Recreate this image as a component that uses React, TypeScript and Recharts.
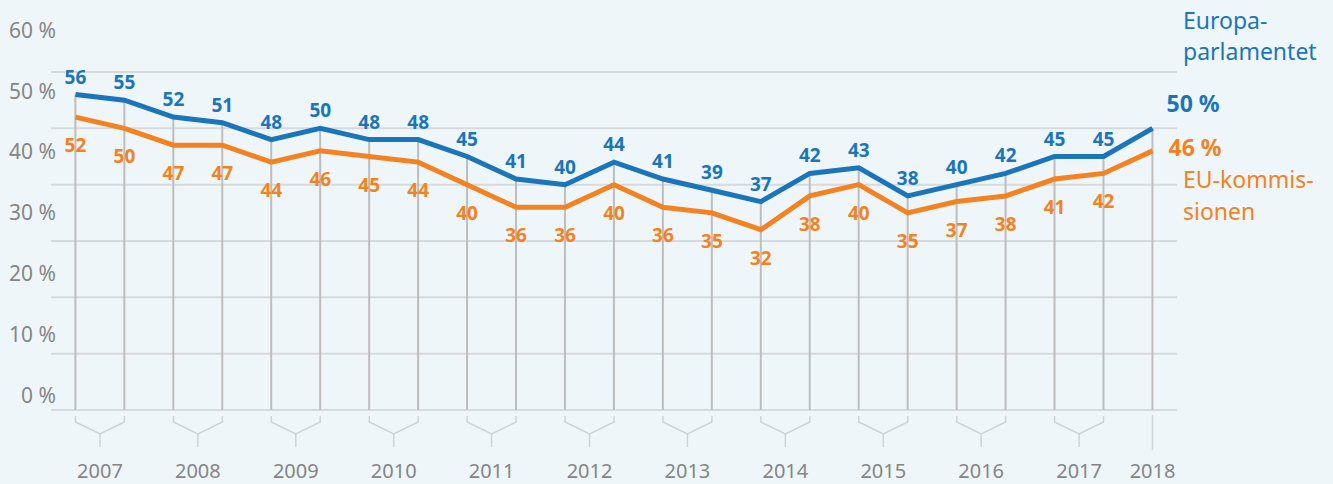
import React from 'react';
import { ComposedChart, Line, Bar, XAxis, YAxis, CartesianGrid } from 'recharts';

// Eurobarometer-mätningar, vår och höst per år
const waves = [
  '2007-1', '2007-2', '2008-1', '2008-2', '2009-1', '2009-2', '2010-1', '2010-2',
  '2011-1', '2011-2', '2012-1', '2012-2', '2013-1', '2013-2', '2014-1', '2014-2',
  '2015-1', '2015-2', '2016-1', '2016-2', '2017-1', '2017-2', '2018-1',
];
const europaparlamentet = [56, 55, 52, 51, 48, 50, 48, 48, 45, 41, 40, 44, 41, 39, 37, 42, 43, 38, 40, 42, 45, 45, 50];
const kommissionen = [52, 50, 47, 47, 44, 46, 45, 44, 40, 36, 36, 40, 36, 35, 32, 38, 40, 35, 37, 38, 41, 42, 46];
const yTicks = [0, 10, 20, 30, 40, 50, 60];

const BLUE = '#1a75bb';
const ORANGE = '#f58220';
const GRAY_TEXT = '#858585';
const FONT = '"Noto Sans", sans-serif';

const W = 1333;
const H = 484;
const MARGIN = { top: 72, right: 156, bottom: 0, left: 0 };
const Y_AXIS_W = 51;
const STEP = (W - MARGIN.left - MARGIN.right - Y_AXIS_W) / waves.length;

const data = waves.map((wave, i) => ({
  wave,
  ep: europaparlamentet[i],
  ek: kommissionen[i],
}));

const last = waves.length - 1;

const YTick = (props: any) => {
  const { x, y, payload } = props;
  const v = payload.value as number;
  // etiketterna sitter lite ovanför sina linjer, mer ju högre upp
  const lift = 7 + v * 0.455;
  return (
    <text x={x + 13} y={y - lift} textAnchor="end" fill={GRAY_TEXT} fontSize={21} fontFamily={FONT}>
      {`${v} %`}
    </text>
  );
};

const XTick = (props: any) => {
  const { x, y, payload } = props;
  const index = payload.index as number;
  const wave = payload.value as string;
  const year = wave.slice(0, 4);
  const half = STEP / 2;
  const stroke = '#cfd3d6';
  if (index === last) {
    return (
      <g>
        <line x1={x} x2={x} y1={y - 3} y2={y + 32} stroke={stroke} strokeWidth={1.5} />
        <text x={x} y={y + 60} textAnchor="middle" fill={GRAY_TEXT} fontSize={20} fontFamily={FONT}>{year}</text>
      </g>
    );
  }
  if (index % 2 === 0) {
    const mid = x + half;
    return (
      <g>
        <polyline
          points={`${x},${y - 2} ${x},${y + 4} ${mid},${y + 16} ${x + STEP},${y + 4} ${x + STEP},${y - 2}`}
          fill="none"
          stroke={stroke}
          strokeWidth={1.5}
        />
        <line x1={mid} x2={mid} y1={y + 16} y2={y + 29} stroke={stroke} strokeWidth={1.5} />
        <text x={mid} y={y + 60} textAnchor="middle" fill={GRAY_TEXT} fontSize={20} fontFamily={FONT}>{year}</text>
      </g>
    );
  }
  return <g />;
};

const Stem = (props: any) => {
  const { x, y, width, height } = props;
  const cx = x + width / 2;
  return <line x1={cx} x2={cx} y1={y} y2={y + height} stroke="#bdbdbd" strokeWidth={2} />;
};

const EpLabel = (props: any) => {
  const { x, y, value, index } = props;
  if (index === last) {
    return (
      <text x={x + 14} y={y - 16} fill={BLUE} fontSize={23} fontWeight={700} fontFamily={FONT}>
        {`${value} %`}
      </text>
    );
  }
  return (
    <text x={x} y={y - 11} textAnchor="middle" fill={BLUE} fontSize={19} fontWeight={700} fontFamily={FONT}>
      {value}
    </text>
  );
};

const EkLabel = (props: any) => {
  const { x, y, value, index } = props;
  if (index === last) {
    return (
      <text x={x + 16} y={y + 5} fill={ORANGE} fontSize={23} fontWeight={700} fontFamily={FONT}>
        {`${value} %`}
      </text>
    );
  }
  return (
    <text x={x} y={y + 35} textAnchor="middle" fill={ORANGE} fontSize={19} fontWeight={700} fontFamily={FONT}>
      {value}
    </text>
  );
};

export default function App() {
  return (
    <div style={{ position: 'absolute', left: 0, top: 0, width: W, height: H, background: '#eff6fa', fontFamily: FONT }}>
      <ComposedChart width={W} height={H} data={data} margin={MARGIN}>
        <CartesianGrid horizontal vertical={false} stroke="#d7dadc" strokeWidth={2} />
        <XAxis dataKey="wave" interval={0} axisLine={false} tickLine={false} height={74} tick={<XTick />} />
        <YAxis
          domain={[0, 60]}
          ticks={yTicks}
          width={Y_AXIS_W}
          axisLine={false}
          tickLine={false}
          tick={<YTick />}
        />
        <Bar dataKey="ep" shape={<Stem />} isAnimationActive={false} />
        <Line
          dataKey="ek"
          stroke={ORANGE}
          strokeWidth={5}
          dot={false}
          label={<EkLabel />}
          isAnimationActive={false}
        />
        <Line
          dataKey="ep"
          stroke={BLUE}
          strokeWidth={5}
          dot={false}
          label={<EpLabel />}
          isAnimationActive={false}
        />
      </ComposedChart>
      <div style={{ position: 'absolute', left: 1183, top: 5, color: BLUE, fontSize: 23, lineHeight: '31px' }}>
        Europa-<br />parlamentet
      </div>
      <div style={{ position: 'absolute', left: 1183, top: 163, color: ORANGE, fontSize: 23, lineHeight: '32px' }}>
        EU-kommis-<br />sionen
      </div>
    </div>
  );
}
